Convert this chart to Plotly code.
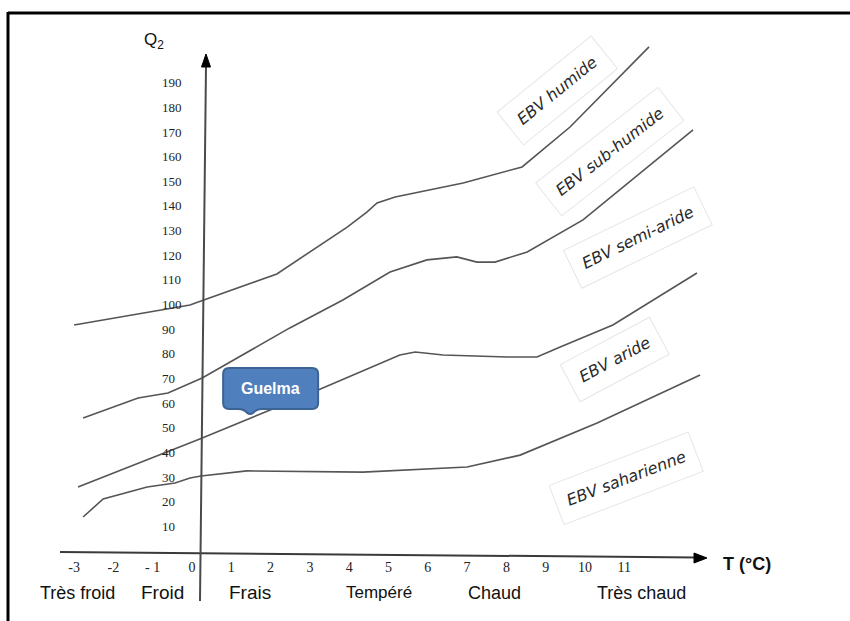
import plotly.graph_objects as go

# ---------------- data ----------------
x_tick_values = [-3, -2, -1, 0, 1, 2, 3, 4, 5, 6, 7, 8, 9, 10, 11]
x_tick_labels = ["-3", "-2", "- 1", "0", "1", "2", "3", "4", "5", "6", "7", "8", "9", "10", "11"]
y_tick_values = [10, 20, 30, 40, 50, 60, 70, 80, 90, 100, 110, 120, 130, 140, 150, 160, 170, 180, 190]
y_tick_labels = ["10", "20", "30", "40", "50", "60", "70", "80", "90", "100",
                 "110", "120", "130", "140", "150", "160", "170", "180", "190"]

# Limit humide / sub-humide
lim_humide_T = [-3.23, -0.28, 0.0, 1.93, 3.72, 4.22, 4.48, 4.94, 6.67, 8.17, 9.39, 11.40]
lim_humide_Q = [91.7, 99.8, 101.4, 112.4, 131.4, 137.5, 141.2, 143.6, 149.3, 155.8, 172.0, 204.5]
# Limit sub-humide / semi-aride
lim_subhumide_T = [-3.00, -1.60, -0.84, 0.03, 2.26, 3.61, 4.81, 5.75, 6.51, 7.02, 7.48, 8.30, 9.72, 12.52]
lim_subhumide_Q = [54.0, 62.1, 64.1, 70.2, 90.5, 101.8, 113.2, 118.1, 119.3, 117.2, 117.2, 121.3, 134.3, 170.8]
# Limit semi-aride / aride
lim_semiaride_T = [-3.13, -0.03, 1.76, 2.98, 5.06, 5.45, 6.16, 7.79, 8.55, 9.14, 10.48, 12.62]
lim_semiaride_Q = [26.0, 45.4, 57.2, 65.3, 79.5, 80.7, 79.5, 78.7, 78.7, 82.8, 91.7, 112.8]
# Limit aride / saharien
lim_aride_T = [-3.00, -2.49, -1.37, -0.66, -0.28, 0.0, 1.17, 4.12, 6.77, 7.61, 8.12, 10.08, 12.70]
lim_aride_Q = [13.8, 21.1, 26.0, 27.6, 29.6, 30.4, 32.5, 32.0, 34.1, 36.9, 38.9, 51.9, 71.4]

zone_names = ["EBV humide", "EBV sub-humide", "EBV semi-aride", "EBV aride", "EBV saharienne"]
zone_label_T = [9.06, 10.41, 11.12, 10.53, 10.81]
zone_label_Q = [187.0, 161.9, 127.0, 77.5, 29.6]

temperature_classes = ["Très froid", "Froid", "Frais", "Tempéré", "Chaud", "Très chaud"]
temperature_class_T = [-3.13, -0.97, 1.25, 4.53, 7.48, 11.2]
temperature_class_Q = -17.0

station_name = "Guelma"
station_T = 1.25
station_Q = 55.6

# ---------------- figure ----------------
W, H = 850, 621


def px(x):
    return x / W


def py(y):
    return 1 - y / H


fig = go.Figure()

curve_style = dict(color="#555555", width=1.6)
for T, Q, name in [
    (lim_humide_T, lim_humide_Q, "humide"),
    (lim_subhumide_T, lim_subhumide_Q, "sub-humide"),
    (lim_semiaride_T, lim_semiaride_Q, "semi-aride"),
    (lim_aride_T, lim_aride_Q, "aride"),
]:
    fig.add_trace(go.Scatter(x=T, y=Q, mode="lines", line=curve_style,
                             name=name, showlegend=False, hoverinfo="skip"))

shapes = []
# frame (top and left border)
shapes.append(dict(type="line", xref="paper", yref="paper",
                   x0=px(8), y0=py(13), x1=px(852), y1=py(13),
                   line=dict(color="black", width=3)))
shapes.append(dict(type="line", xref="paper", yref="paper",
                   x0=px(8), y0=py(12), x1=px(8), y1=py(625),
                   line=dict(color="black", width=3)))
# x axis line + arrowhead
shapes.append(dict(type="line", xref="paper", yref="paper",
                   x0=px(60), y0=py(552), x1=px(697), y1=py(557.5),
                   line=dict(color="#3a3a3a", width=2)))
shapes.append(dict(type="path", xref="paper", yref="paper",
                   path=f"M {px(707)},{py(558)} L {px(694)},{py(553)} L {px(694)},{py(563)} Z",
                   fillcolor="black", line=dict(color="black", width=1)))
# y axis line + arrowhead
shapes.append(dict(type="line", xref="paper", yref="paper",
                   x0=px(200), y0=py(601), x1=px(206), y1=py(66),
                   line=dict(color="#4a4a4a", width=2)))
shapes.append(dict(type="path", xref="paper", yref="paper",
                   path=f"M {px(206)},{py(54)} L {px(201.5)},{py(67)} L {px(210.5)},{py(67)} Z",
                   fillcolor="black", line=dict(color="black", width=1)))

# Guelma callout (pixel-sized path anchored on the station point)
Lx, Rx, Tp, Bt, r = -27, 68, 46, 5, 6
callout = (f"M {Lx + r},{Tp} L {Rx - r},{Tp} Q {Rx},{Tp} {Rx},{Tp - r} "
           f"L {Rx},{Bt + r} Q {Rx},{Bt} {Rx - r},{Bt} "
           f"L 12,{Bt} Q 6,{Bt} 3,1 Q 0,-1 -3,1 Q -6,{Bt} -12,{Bt} "
           f"L {Lx + r},{Bt} Q {Lx},{Bt} {Lx},{Bt + r} "
           f"L {Lx},{Tp - r} Q {Lx},{Tp} {Lx + r},{Tp} Z")
shapes.append(dict(type="path", xref="x", yref="y",
                   xsizemode="pixel", ysizemode="pixel",
                   xanchor=station_T, yanchor=station_Q,
                   path=callout, fillcolor="#4f7fbd",
                   line=dict(color="#3b6394", width=2)))

annotations = []
# station label
annotations.append(dict(x=station_T, y=station_Q, xref="x", yref="y",
                        text=f"<b>{station_name}</b>", showarrow=False,
                        xshift=20, yshift=25,
                        font=dict(family="Liberation Sans", size=16, color="white")))

# zone labels (rotated, faint box)
zone_angles = [-39, -38, -26, -28, -21]
for name, T, Q, ang in zip(zone_names, zone_label_T, zone_label_Q, zone_angles):
    annotations.append(dict(x=T, y=Q, xref="x", yref="y", text=name,
                            showarrow=False, textangle=ang,
                            font=dict(family="DejaVu Sans", size=16,
                                      color="#2a2a2a", style="italic"),
                            bordercolor="#e6e6e6", borderwidth=1, borderpad=11))

# temperature classes
class_sizes = [18, 19, 19, 17, 18, 18]
for name, T, s in zip(temperature_classes, temperature_class_T, class_sizes):
    annotations.append(dict(x=T, y=temperature_class_Q, xref="x", yref="y",
                            text=name, showarrow=False,
                            font=dict(family="Liberation Sans", size=s, color="#111111")))

# axis titles
annotations.append(dict(x=px(142), y=py(41), xref="paper", yref="paper",
                        text="Q<sub>2</sub>", showarrow=False, xanchor="left",
                        yanchor="middle",
                        font=dict(family="Liberation Sans", size=17, color="#111111")))
annotations.append(dict(x=px(721), y=py(564), xref="paper", yref="paper",
                        text="<b>T (°C)</b>", showarrow=False, xanchor="left",
                        yanchor="middle",
                        font=dict(family="Liberation Sans", size=18, color="#111111")))

fig.update_layout(
    width=W, height=H,
    margin=dict(l=0, r=0, t=0, b=0),
    paper_bgcolor="white", plot_bgcolor="white",
    showlegend=False,
    shapes=shapes, annotations=annotations,
    xaxis=dict(range=[-201 / 39.3, (W - 201) / 39.3], showgrid=False, zeroline=False,
               showline=False, ticks="", tickmode="array",
               tickvals=x_tick_values, ticktext=x_tick_labels,
               anchor="free", position=py(553), ticklabelshift=-9,
               ticklabelstandoff=4,
               tickfont=dict(family="Liberation Serif", size=14, color="#222222"),
               fixedrange=True),
    yaxis=dict(range=[-(H - 551) / 2.465, 551 / 2.465], showgrid=False, zeroline=False,
               showline=False, ticks="", tickmode="array",
               tickvals=y_tick_values, ticktext=y_tick_labels,
               anchor="free", position=px(161), side="right",
               ticklabelposition="outside", ticklabelstandoff=0,
               tickfont=dict(family="Liberation Serif", size=13, color="#222222"),
               fixedrange=True),
)

fig.write_html("out.html", config={"displayModeBar": False},
               post_script="document.body.style.margin='0';document.body.style.padding='0';")
